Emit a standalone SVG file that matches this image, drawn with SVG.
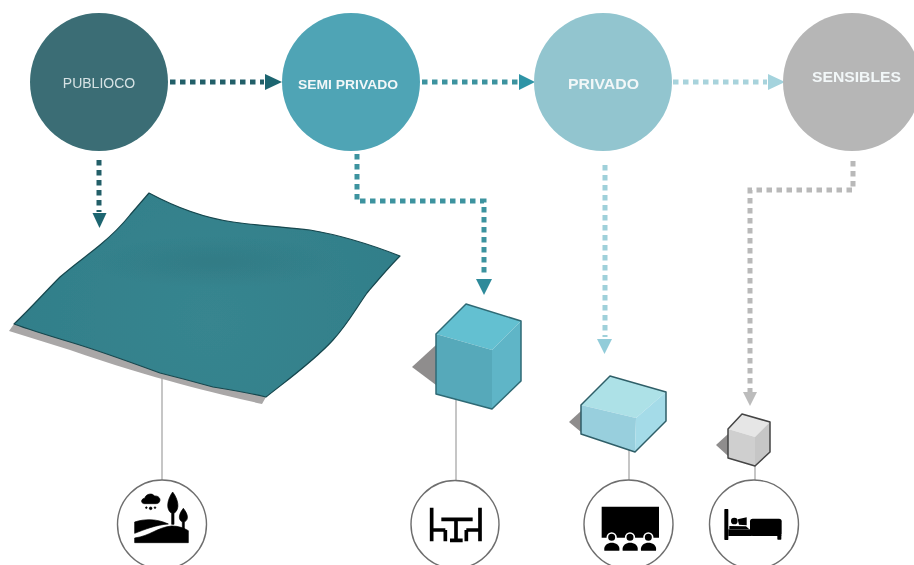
<svg xmlns="http://www.w3.org/2000/svg" width="914" height="565" viewBox="0 0 914 565">
<style>
.lbl{font-family:"Liberation Sans",Arial,sans-serif;fill:#f2f7f8;text-anchor:middle}
.b{font-weight:700}
.dot{fill:none;stroke-width:5;stroke-dasharray:5.5 4.5}
.lead{stroke:#b4b4b4;stroke-width:1.5;fill:none}
.ring{fill:#fff;stroke:#6e6e6e;stroke-width:1.4}
.edge{stroke-linejoin:round}
</style>
<defs>
<radialGradient id="sheet" gradientUnits="userSpaceOnUse" cx="210" cy="320" r="190">
<stop offset="0" stop-color="#37858f"/><stop offset="1" stop-color="#327f8a"/>
</radialGradient>
<radialGradient id="crease" gradientUnits="userSpaceOnUse" cx="0" cy="0" r="1" gradientTransform="translate(215 262) scale(125 26)">
<stop offset="0" stop-color="#2c6f79" stop-opacity=".4"/><stop offset="1" stop-color="#2c6f79" stop-opacity="0"/>
</radialGradient>
<filter id="soft" x="-5%" y="-5%" width="110%" height="110%"><feGaussianBlur stdDeviation="0.5"/></filter>
<filter id="softer" x="-5%" y="-5%" width="110%" height="110%"><feGaussianBlur stdDeviation="0.35"/></filter>
</defs>

<g id="connectors" filter="url(#soft)">
<path class="dot" stroke="#235f68" d="M170 82H264"/><path fill="#1f6570" d="M265 74L282 82L265 90Z"/>
<path class="dot" stroke="#235f68" d="M99 160V212"/><path fill="#1f6570" d="M92.500 213H106.500L99.500 228Z"/>
<path class="dot" stroke="#3c939f" d="M357 154V201H484V277"/><path fill="#2d8a9a" d="M476 279H492L484 295Z"/>
<path class="dot" stroke="#3c939f" d="M422 82H519"/><path fill="#2f94a6" d="M519 74L535 82L519 90Z"/>
<path class="dot" stroke="#a8d3dc" d="M673 82H767"/><path fill="#a4d3dd" d="M768 74L785 82L768 90Z"/>
<path class="dot" stroke="#9fd0da" d="M605 165V337"/><path fill="#92ccd9" d="M597 339H612L604.500 354Z"/>
<path class="dot" stroke="#b9b9b9" d="M853 161V190H750V392"/><path fill="#bcbcbc" d="M743 392H757L750 406Z"/>
<path class="lead" d="M162 378V480M456 400V480M629 450V480M755 466V480"/>
</g>

<g id="node-publioco" filter="url(#softer)">
<circle cx="99" cy="82" r="69" fill="#3a6d74"/>
<text class="lbl" x="99" y="88" font-size="14" fill-opacity=".85">PUBLIOCO</text>
</g>
<g id="node-semi-privado" filter="url(#softer)">
<circle cx="351" cy="82" r="69" fill="#4fa4b5"/>
<text class="lbl b" x="348" y="89" font-size="12.500" textLength="100" lengthAdjust="spacingAndGlyphs">SEMI PRIVADO</text>
</g>
<g id="node-privado" filter="url(#softer)">
<circle cx="603" cy="82" r="69" fill="#92c5cf"/>
<text class="lbl b" x="603.500" y="89" font-size="15.500" textLength="71" lengthAdjust="spacingAndGlyphs">PRIVADO</text>
</g>
<g id="node-sensibles" filter="url(#softer)">
<circle cx="852" cy="82" r="69" fill="#b6b6b6"/>
<text class="lbl b" x="856.500" y="82" font-size="15.500" textLength="89" lengthAdjust="spacingAndGlyphs">SENSIBLES</text>
</g>

<g id="volume-publico" filter="url(#soft)">
<path fill="#a9a7a7" d="M9 331L14 324L266 397L262 404C215 393 160 381 70 350Z"/>
<path id="sheet-shape" class="edge" fill="url(#sheet)" stroke="#17474e" stroke-width="1.200" d="M149 193C175 207 205 218 233 222C262 226 285 227 310 230C340 235 372 245 400 256C388 268 378 280 367 293C355 310 347 325 333 340C315 360 290 378 266 397C245 392 232 390 213 387C195 382 180 378 160 373C130 362 100 351 70 342C50 336 30 330 14 324C30 309 45 292 60 277C75 264 88 255 100 245C112 235 122 225 130 215C136 208 143 200 149 193Z"/>
<ellipse cx="215" cy="262" rx="125" ry="26" fill="url(#crease)"/>
</g>

<g id="volume-semi-privado" filter="url(#soft)">
<path fill="#8f8d8d" d="M412 367L436 345V385Z"/>
<path fill="#64c0d1" d="M466 304L521 321L492 350L436 334Z"/>
<path fill="#56a9ba" d="M436 334L492 350V409L436 394Z"/>
<path fill="#5eb5c7" d="M492 350L521 321V381L492 409Z"/>
<path fill="none" stroke="#2f6a75" stroke-width="1.500" stroke-linejoin="round" d="M466 304L521 321V381L492 409L436 394V334Z"/>
</g>

<g id="volume-privado" filter="url(#soft)">
<path fill="#8f8d8d" d="M569 422L581 411V432Z"/>
<path fill="#ade1e7" d="M610 376L666 392L636 418L581 405Z"/>
<path fill="#98cfdd" d="M581 405L636 418L635 452L581 434Z"/>
<path fill="#a4dbe8" d="M636 418L666 392V421L635 452Z"/>
<path fill="none" stroke="#2f5e68" stroke-width="1.500" stroke-linejoin="round" d="M610 376L666 392V421L635 452L581 434V405Z"/>
</g>

<g id="volume-sensibles" filter="url(#soft)">
<path fill="#8f8d8d" d="M716 445L728 434V456Z"/>
<path fill="#e6e6e6" d="M742 414L770 422L755 437L728 429Z"/>
<path fill="#cfcfcf" d="M728 429L755 437V466L728 458Z"/>
<path fill="#c6c6c6" d="M755 437L770 422V452L755 466Z"/>
<path fill="none" stroke="#444" stroke-width="1.500" stroke-linejoin="round" d="M742 414L770 422V452L755 466L728 458V429Z"/>
</g>

<g id="icon-parque" filter="url(#softer)">
<circle class="ring" cx="162" cy="524.500" r="44.500"/>
<g transform="translate(100 460) scale(.33333)" fill="#000" stroke="#000" stroke-width="2">
<path d="M133 131C122 131 122 116 134 115C137 101 158 98 163 108C176 106 184 118 178 126C176 130 172 131 168 131Z"/>
<circle cx="139" cy="143" r="2.500"/><circle cx="152" cy="145" r="4"/><circle cx="165" cy="143" r="2.500"/>
<path d="M218 96C235 118 241 148 222 160V193H215V160C196 148 202 118 218 96Z"/>
<path d="M250 145C262 160 269 178 253 186V207H247V186C232 178 238 160 250 145Z"/>
<path d="M104 186C135 176 170 176 205 192C170 194 135 208 104 220Z"/>
<path d="M104 234C150 228 172 202 215 198C235 198 252 204 265 212V248H104Z"/>
</g>
</g>

<g id="icon-comedor" filter="url(#softer)">
<circle class="ring" cx="455" cy="524.500" r="44"/>
<g transform="translate(100 460) scale(.33333)" fill="none" stroke="#000" stroke-width="11">
<path d="M995 143V244M995 210H1036M1036 210V244"/>
<path d="M1140 143V244M1140 210H1099M1099 210V244"/>
<path d="M1024 178H1118M1068 178V240M1050 241H1088"/>
</g>
</g>

<g id="icon-cine" filter="url(#softer)">
<circle class="ring" cx="628.500" cy="524.500" r="44.500"/>
<g transform="translate(560 460) scale(.33333)">
<path fill="#000" d="M125 140H297V233H125Z"/>
<g fill="#000" stroke="#fff" stroke-width="5">
<circle cx="155" cy="232" r="13"/><circle cx="210" cy="232" r="13"/><circle cx="265" cy="232" r="13"/>
</g>
<g fill="#000">
<path d="M133 272C130 255 145 248 155 248C167 248 181 255 178 272Z"/>
<path d="M188 272C185 255 200 248 210 248C222 248 236 255 233 272Z"/>
<path d="M243 272C240 255 255 248 265 248C277 248 291 255 288 272Z"/>
</g>
</g>
</g>

<g id="icon-dormitorio" filter="url(#softer)">
<circle class="ring" cx="754" cy="524.500" r="44.500"/>
<g transform="translate(560 460) scale(.33333)" fill="#000">
<rect x="493" y="147" width="12" height="93" rx="2"/>
<rect x="505" y="208" width="70" height="20"/>
<circle cx="523" cy="183" r="10"/>
<path d="M533 178L560 172V196L537 194Z"/>
<path d="M508 198L558 199L568 208H508Z"/>
<rect x="570" y="176" width="95" height="52" rx="8"/>
<rect x="652" y="224" width="12" height="15" rx="2"/>
</g>
</g>
</svg>
